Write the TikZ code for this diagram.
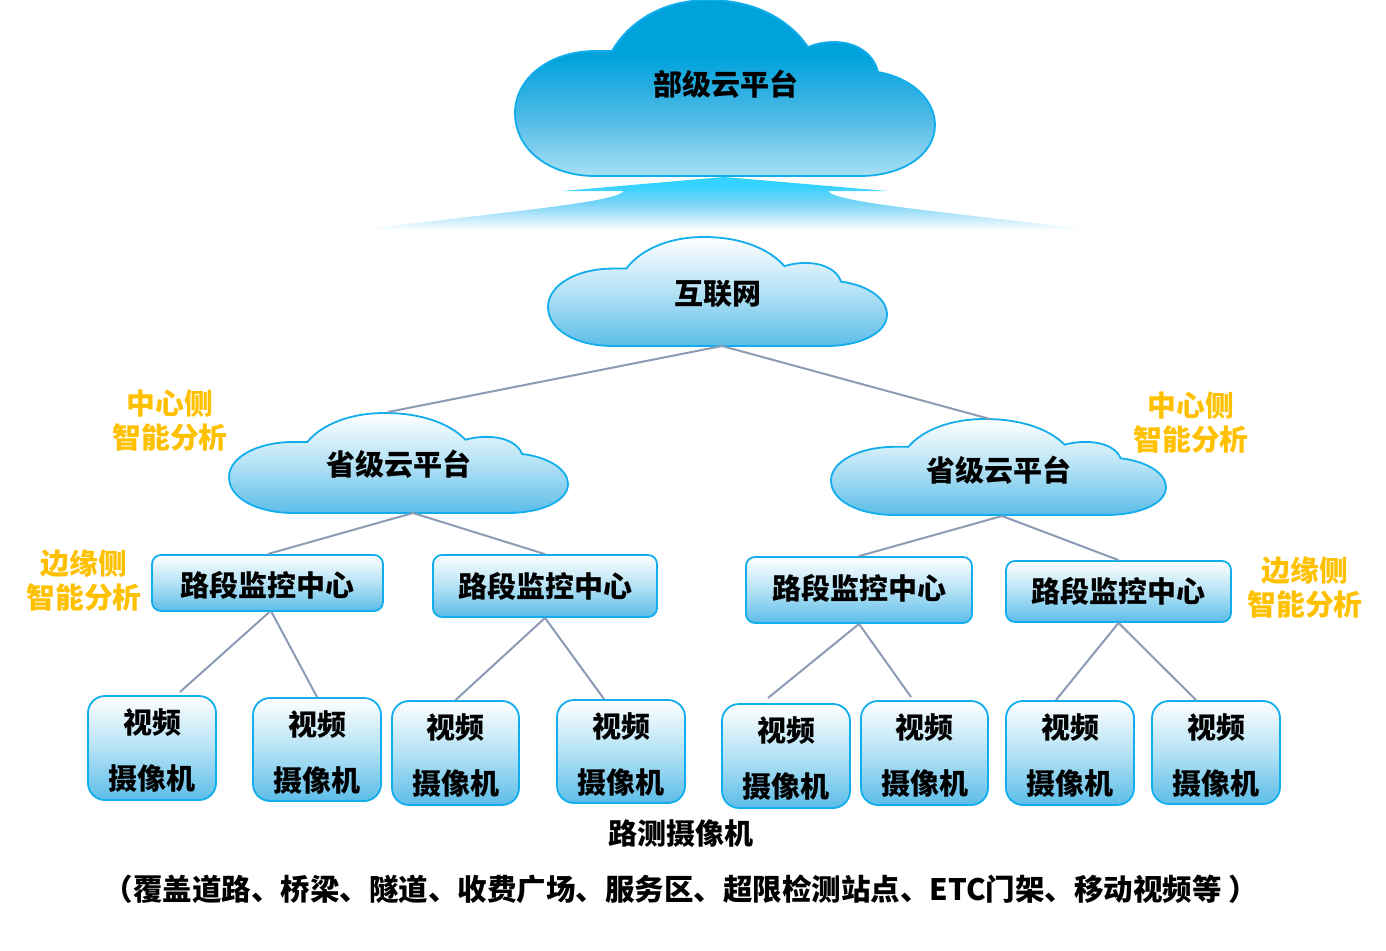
\documentclass[tikz,border=0pt]{standalone}
\usepackage{fontspec}
\setmainfont{Noto Sans CJK SC}
\definecolor{edgeblue}{HTML}{12ADEC}
\definecolor{linegray}{HTML}{8C9BB4}
\definecolor{sideorange}{HTML}{FFC000}
\definecolor{bigtop}{HTML}{00A2DC}
\definecolor{bigmid}{HTML}{4DB9E6}
\definecolor{bigbot}{HTML}{A8E0F5}
\definecolor{softtop}{HTML}{FFFFFF}
\definecolor{softmid}{HTML}{B4E2F5}
\definecolor{softbot}{HTML}{5CBDE8}
\definecolor{beamtop}{HTML}{33D2FF}
\definecolor{beammid}{HTML}{46C3F2}
\pgfdeclareverticalshading{bigcloudfill}{100bp}{color(0bp)=(bigbot); color(25bp)=(bigbot); color(42bp)=(bigmid); color(59bp)=(bigtop); color(100bp)=(bigtop)}
\pgfdeclareverticalshading{softfill}{100bp}{color(0bp)=(softbot); color(25bp)=(softbot); color(50bp)=(softmid); color(75bp)=(softtop); color(100bp)=(softtop)}
\pgfdeclareverticalshading{beamfill}{100bp}{color(0bp)=(white); color(25bp)=(white); color(50bp)=(beammid!72); color(67bp)=(beamtop); color(100bp)=(beamtop)}
\newcommand{\cloudoutline}{(97,51) .. controls (115,20) and (150,0) .. (193,0)
  .. controls (238,0) and (273,18) .. (293,47)
  .. controls (303,43) and (311,42) .. (319,42)
  .. controls (343,42) and (359,55) .. (363,72)
  .. controls (397,78) and (420,100) .. (420,125)
  .. controls (420,155) and (387,176) .. (345,176)
  -- (80,176)
  .. controls (35,176) and (0,150) .. (0,113)
  .. controls (0,78) and (35,51) .. (80,51) -- cycle}
\newcommand{\drawcloud}[5]{\begin{scope}[shift={(#1,#2)},xscale=#3/420,yscale=#4/176]
  \path[draw=edgeblue,line width=1.8pt,shading=#5] \cloudoutline;
\end{scope}}
\newcommand{\nudge}[2]{\raisebox{#1}[\height][\depth]{#2}}
\newcommand{\camtext}{\nudge{-3pt}{视频}\\\nudge{-3pt}{摄像机}}
\tikzset{
  x=1pt,y=-1pt,
  lab/.style={font=\fontsize{29}{34}\selectfont\bfseries,text=black,inner sep=0pt},
  sidelab/.style={font=\fontsize{28.8}{34.4}\selectfont\bfseries,text=sideorange,inner sep=0pt,align=center},
  boxbase/.style={rectangle,draw=edgeblue,line width=1.8pt,shading=softfill,inner sep=0pt,align=center,text=black,
    font=\fontsize{29}{56}\selectfont\bfseries},
  roadbox/.style={boxbase,rounded corners=9pt},
  cambox/.style={boxbase,rounded corners=17pt},
  link/.style={draw=linegray,line width=2pt}
}
\begin{document}
\begin{tikzpicture}
\useasboundingbox (0,0) rectangle (1386,950);
% beam
\path[shading=beamfill] (724,177) -- (887,191) -- (828,191)
  .. controls (835,203) and (950,212) .. (1090,230) -- (360,230)
  .. controls (500,212) and (615,203) .. (624,191) -- (562,191) -- cycle;
% clouds
\drawcloud{515}{0}{420}{176}{bigcloudfill}
\drawcloud{548}{237}{339}{109}{softfill}
\drawcloud{229}{413}{339}{100}{softfill}
\drawcloud{831}{419}{335}{96}{softfill}
\node[lab] (top) at (725.5,84.5) {部级云平台};
\node[lab] (net) at (717.5,293.5) {互联网};
\node[lab] (provl) at (398.5,464) {省级云平台};
\node[lab] (provr) at (998.5,470) {省级云平台};
\coordinate (netb) at (722,346);
\coordinate (provltop) at (388,412);
\coordinate (provrtop) at (990,419);
\coordinate (provlb) at (413,513);
\coordinate (provrb) at (1002,516);
% road boxes
\node[roadbox,minimum width=231pt,minimum height=56pt] (a) at (267.5,583) {\nudge{-2pt}{路段监控中心}};
\node[roadbox,minimum width=224pt,minimum height=62pt] (b) at (545,586) {路段监控中心};
\node[roadbox,minimum width=226pt,minimum height=66pt] (c) at (859,590) {\nudge{2pt}{路段监控中心}};
\node[roadbox,minimum width=225pt,minimum height=61pt] (d) at (1118.5,591.5) {路段监控中心};
% cameras
\node[cambox,minimum width=128pt,minimum height=104pt] (c1) at (152,748) {\camtext};
\node[cambox,minimum width=128pt,minimum height=103pt] (c2) at (317,749.5) {\camtext};
\node[cambox,minimum width=127pt,minimum height=104pt] (c3) at (455.5,753) {\camtext};
\node[cambox,minimum width=128pt,minimum height=103pt] (c4) at (621,751.5) {\camtext};
\node[cambox,minimum width=128pt,minimum height=104pt] (c5) at (786,756) {\camtext};
\node[cambox,minimum width=127pt,minimum height=104pt] (c6) at (924.5,753) {\camtext};
\node[cambox,minimum width=128pt,minimum height=104pt] (c7) at (1070,753) {\camtext};
\node[cambox,minimum width=128pt,minimum height=103pt] (c8) at (1216,752.5) {\camtext};
% free connector ends
\coordinate (e1) at (180,692);
\coordinate (e2) at (317,697);
\coordinate (e4) at (604,699);
\coordinate (e5) at (768,698);
\coordinate (e6) at (911,697);
\coordinate (e7) at (1056,700);
\coordinate (e8) at (1196,700);
% connectors
\draw[link] (netb) -- (provltop);
\draw[link] (netb) -- (provrtop);
\draw[link] (provlb) -- (a.north);
\draw[link] (provlb) -- (b.north);
\draw[link] (provrb) -- (c.north);
\draw[link] (provrb) -- (d.north);
\draw[link] ([xshift=2pt]a.south) -- (e1);
\draw[link] ([xshift=4pt]a.south) -- (e2);
\draw[link] (b.south) -- (c3.north);
\draw[link] (b.south) -- (e4);
\draw[link] (c.south) -- (e5);
\draw[link] (c.south) -- (e6);
\draw[link] (d.south) -- (e7);
\draw[link] (d.south) -- (e8);
% side labels
\node[sidelab] (s1) at (170,420.5) {中心侧\\智能分析};
\node[sidelab] (s2) at (1191,422.5) {中心侧\\智能分析};
\node[sidelab] (s3) at (84,580.5) {边缘侧\\智能分析};
\node[sidelab] (s4) at (1305,587.5) {边缘侧\\智能分析};
% captions
\node[lab] (cap1) at (681,834) {路测摄像机};
\node[lab,font=\fontsize{29.5}{34}\selectfont\bfseries] (cap2) at (681,889) {（覆盖道路、桥梁、隧道、收费广场、服务区、超限检测站点、ETC门架、移动视频等 ）};
\end{tikzpicture}
\end{document}
